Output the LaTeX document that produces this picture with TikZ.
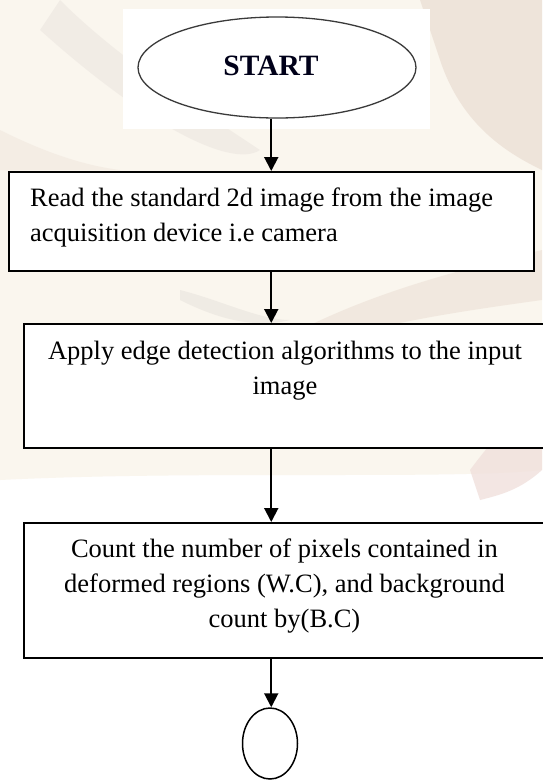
\documentclass[tikz,border=0pt]{standalone}
\usepackage{fontspec}
\setmainfont{Liberation Serif}
\usetikzlibrary{arrows.meta,shapes.geometric}
\definecolor{wmbase}{HTML}{FAF6EE}
\definecolor{wmbrown}{HTML}{ECE0D6}
\definecolor{wmpink}{HTML}{F0E0DC}
\definecolor{wmgrey}{HTML}{E9E4DE}
\definecolor{ellline}{HTML}{3A3A3A}
\newcommand\myleftlines[1]{\vtop{\halign{##\hfil\cr#1\crcr}}}
\newcommand\mycenterlines[1]{\vtop{\halign{\hfil##\hfil\cr#1\crcr}}}
\begin{document}
\begin{tikzpicture}[x=1pt,y=-1pt,
  procbox/.style={draw=black,line width=1.5pt,fill=white,inner sep=0pt,anchor=north west},
  arr/.style={line width=2pt,-{Triangle[width=14pt,length=14pt]}},
  txt/.style={inner sep=0pt,font=\fontsize{26.5}{35}\selectfont}]
\useasboundingbox (0,0) rectangle (542,780);
\begin{scope}
\clip (0,0) rectangle (542,780);
% faint watermark background
\fill[white] (0,0) rectangle (542,780);
\fill[wmbase] (0,0) -- (542,0) -- (542,470) .. controls (450,480) and (200,470) .. (0,480) -- cycle;
\fill[wmbrown,opacity=0.8] (420,0) -- (542,0) -- (542,170) .. controls (500,150) and (460,120) .. (440,60) -- cycle;
\fill[wmgrey,opacity=0.5] (60,0) .. controls (120,60) and (200,110) .. (260,150) .. controls (230,170) and (140,120) .. (40,30) -- cycle;
\fill[wmbrown,opacity=0.6] (300,330) .. controls (380,290) and (460,270) .. (542,250) -- (542,300) .. controls (470,310) and (400,320) .. (330,340) -- cycle;
\fill[wmgrey,opacity=0.6] (180,290) .. controls (220,300) and (260,320) .. (290,320) .. controls (250,330) and (210,315) .. (180,300) -- cycle;
\fill[wmpink,opacity=0.8] (470,470) .. controls (500,430) and (520,410) .. (542,395) -- (542,470) .. controls (520,490) and (500,495) .. (480,500) -- cycle;
\fill[wmbrown,opacity=0.4] (0,130) .. controls (40,150) and (80,165) .. (120,170) -- (0,170) -- cycle;
\end{scope}
% white panel behind the start ellipse
\fill[white] (123,9) rectangle (430,129);
% nodes
\node[ellipse,draw=ellline,line width=1.3pt,minimum width=278pt,minimum height=101pt,inner sep=0pt] (start) at (277,67.5) {};
\node[anchor=base,inner sep=0pt,font=\fontsize{29.5}{30}\selectfont\bfseries,text=black!90!blue] (starttxt) at (271,75) {START};
\node[procbox,minimum width=525pt,minimum height=99pt] (box1) at (8,171) {};
\node[procbox,minimum width=524pt,minimum height=124pt] (box2) at (23,323) {};
\node[procbox,minimum width=524pt,minimum height=135pt] (box3) at (23,522) {};
\node[txt,anchor=base west] (t1) at (30,206) {\myleftlines{Read the standard 2d image from the image\cr acquisition device i.e camera}};
\node[txt,anchor=base] (t2) at (285,359) {\mycenterlines{Apply edge detection algorithms to the input\cr image}};
\node[txt,anchor=base] (t3) at (284.5,557) {\mycenterlines{Count the number of pixels contained in\cr deformed regions (W.C), and background\cr count by(B.C)}};
\node[ellipse,draw=black,line width=1.5pt,minimum width=55pt,minimum height=71pt,inner sep=0pt] (endc) at (270,743.5) {};
% connectors
\draw[arr] (start.south -| box1.north) -- (box1.north);
\draw[arr] (box1.south) -- (box1.south |- box2.north);
\draw[arr] (box2.south -| box1.south) -- (box1.south |- box3.north);
\draw[arr] (box3.south -| box1.south) -- (endc.north -| box1.south);
\end{tikzpicture}
\end{document}
